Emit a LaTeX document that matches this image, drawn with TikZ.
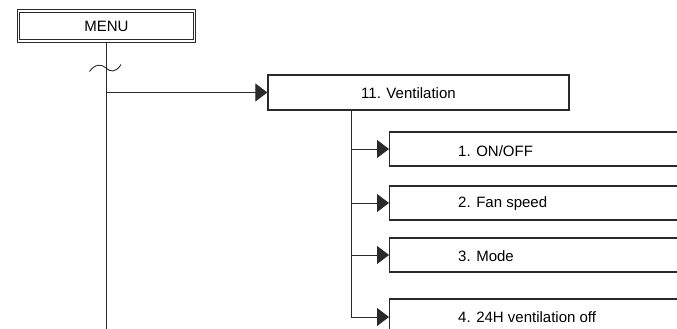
\documentclass[tikz,border=0pt]{standalone}
\usepackage{fontspec}
\setmainfont{Liberation Sans}
\usetikzlibrary{arrows.meta}
\definecolor{ink}{HTML}{2A2A2A}
\tikzset{
  boxstyle/.style={draw=ink, line width=1.3pt, fill=white, inner sep=0pt},
  menubox/.style={draw=ink, double=white, double distance=1.8pt, line width=0.9pt, minimum width=176pt, minimum height=30.4pt, inner sep=0pt, font=\fontsize{15}{18}\selectfont},
  conn/.style={draw=ink, line width=0.9pt},
  arr/.style={conn, -{Triangle[length=12pt, width=18pt]}},
  lbl/.style={anchor=west, inner sep=0pt, font=\fontsize{15}{18}\selectfont}
}
\begin{document}
\begin{tikzpicture}[x=1pt, y=-1pt]
\clip (0,0) rectangle (677,329);
\fill[white] (0,0) rectangle (677,329);
% menu
\node[menubox] (menu) at (106.5,26) {MENU};
% ventilation
\node[boxstyle, minimum width=301pt, minimum height=35pt] (vent) at (418.5,92.5) {};
\node[lbl] (ventt) at (361,93) {11. Ventilation};
% sub boxes
\node[boxstyle, minimum width=330pt, minimum height=34pt, anchor=west] (b1) at (389,149) {};
\node[lbl] (t1) at (458,151) {1. ON/OFF};
\node[boxstyle, minimum width=330pt, minimum height=34pt, anchor=west] (b2) at (389,203) {};
\node[lbl] (t2) at (458,203.5) {2. Fan speed};
\node[boxstyle, minimum width=330pt, minimum height=34pt, anchor=west] (b3) at (389,255) {};
\node[lbl] (t3) at (458,256) {3. Mode};
\node[boxstyle, minimum width=330pt, minimum height=36pt, anchor=west] (b4) at (389,317) {};
\node[lbl] (t4) at (458,317.5) {4. 24H ventilation off};
% coordinates
\coordinate (mbot) at (106.5,340);
\coordinate (bx) at (351,0);
% main vertical
\draw[conn] (menu.south) -- (mbot);
% tilde
\draw[conn] (89.5,71.5) .. controls (95,63.5) and (102,64) .. (106,68) .. controls (110,72) and (116,73) .. (121,64.5);
% arrow to ventilation
\draw[arr] (menu.south |- vent.west) -- (vent.west);
% branch
\draw[conn] (vent.south -| bx) -- (bx |- b4.west);
\draw[arr] (bx |- b1.west) -- (b1.west);
\draw[arr] (bx |- b2.west) -- (b2.west);
\draw[arr] (bx |- b3.west) -- (b3.west);
\draw[arr] (bx |- b4.west) -- (b4.west);
\end{tikzpicture}
\end{document}
